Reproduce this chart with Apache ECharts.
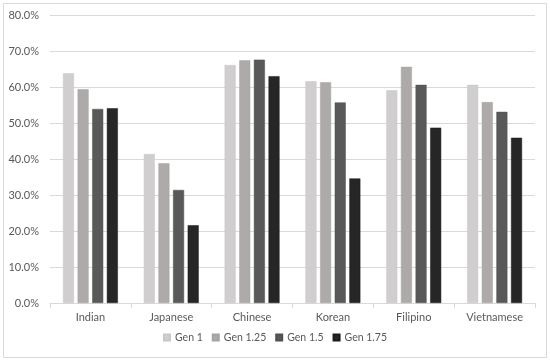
<!DOCTYPE html>
<html><head><meta charset="utf-8">
<script src="https://cdn.jsdelivr.net/npm/echarts@6/dist/echarts.min.js"></script>
<style>html,body{margin:0;padding:0;background:#fff;}#c{width:550px;height:361px;}</style>
</head><body><div id="c"></div>
<script>
const categories = ['Indian','Japanese','Chinese','Korean','Filipino','Vietnamese'];
const seriesNames = ['Gen 1','Gen 1.25','Gen 1.5','Gen 1.75'];
const gen1   = [63.8, 41.4, 66.1, 61.6, 59.1, 60.6];
const gen125 = [59.4, 38.8, 67.4, 61.3, 65.6, 55.8];
const gen15  = [53.9, 31.4, 67.6, 55.7, 60.6, 53.1];
const gen175 = [54.1, 21.6, 63.0, 34.6, 48.7, 45.9];
const colors = ['#d0cece','#aeaaaa','#595959','#262626'];
const borders = ['#c8c6c6','#a6a2a2','#505050','#1a1a1a'];
const values = [gen1, gen125, gen15, gen175];

const chart = echarts.init(document.getElementById('c'), null, {renderer:'canvas'});
chart.setOption({
  animation:false,
  textStyle:{fontFamily:'Lato, Open Sans, sans-serif'},
  graphic:[{type:'rect',shape:{x:3.5,y:3.5,width:543,height:354},style:{fill:'none',stroke:'#d9d9d9',lineWidth:1},silent:true,z:-1}],
  grid:{left:50,right:15,top:15,bottom:58},
  legend:{
    data:seriesNames, bottom:13, left:'center', itemWidth:6, itemHeight:6, itemGap:9,
    icon:'rect', textStyle:{color:'#595959',fontSize:10.5}
  },
  xAxis:{
    type:'category', data:categories,
    axisLine:{lineStyle:{color:'#d9d9d9'}},
    axisTick:{show:true,length:5,lineStyle:{color:'#d9d9d9'}},
    axisLabel:{color:'#595959',fontSize:11,margin:9}
  },
  yAxis:{
    type:'value', min:0, max:80, interval:10,
    axisLine:{show:false}, axisTick:{show:false},
    splitLine:{lineStyle:{color:'#d9d9d9'}},
    axisLabel:{color:'#595959',fontSize:11,margin:11,formatter:v=>v.toFixed(1)+'%'}
  },
  series: seriesNames.map((n,i)=>({
    name:n, type:'bar', data:values[i], barWidth:11, barGap:'33%',
    itemStyle:{color:colors[i], borderColor:borders[i], borderWidth:0.5}
  }))
});
</script></body></html>
